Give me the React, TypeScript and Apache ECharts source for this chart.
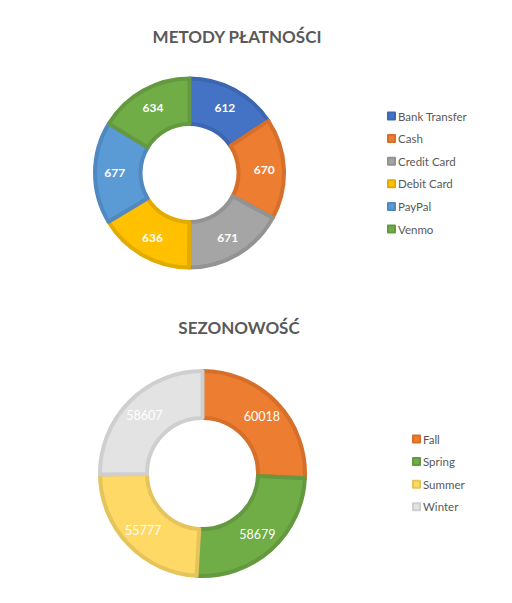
import React, { useEffect, useRef } from "react";
import * as echarts from "echarts";

const payCategories = ["Bank Transfer", "Cash", "Credit Card", "Debit Card", "PayPal", "Venmo"];
const payValues = [612, 670, 671, 636, 677, 634];
const payColors = ["#4472C4", "#ED7D31", "#A5A5A5", "#FFC000", "#5B9BD5", "#70AD47"];
const payBorders = ["#3D66B0", "#D66F2A", "#939393", "#E3AB00", "#5089C2", "#64993F"];

const seasonCategories = ["Fall", "Spring", "Summer", "Winter"];
const seasonValues = [60018, 58679, 55777, 58607];
const seasonColors = ["#ED7D31", "#70AD47", "#FFD966", "#E3E3E3"];
const seasonBorders = ["#D66F2A", "#64993F", "#E6C45C", "#CFCFCF"];

const FONT = "Lato, 'Open Sans', sans-serif";

export default function App() {
  const ref = useRef<HTMLDivElement>(null);
  useEffect(() => {
    if (!ref.current) return;
    const chart = echarts.init(ref.current, null, { renderer: "svg" });
    const mk = (names: string[], vals: number[], cols: string[], bords: string[]) =>
      names.map((n, i) => ({
        name: n,
        value: vals[i],
        itemStyle: { color: cols[i], borderColor: bords[i], borderWidth: 4 },
      }));
    const legendText = { fontFamily: FONT, fontSize: 11.5, color: "#595959", lineHeight: 12, padding: [0, 0, 0, -2] };
    chart.setOption({
      animation: false,
      title: [
        {
          text: "METODY PŁATNOŚCI",
          left: 232,
          top: 23,
          textAlign: "center",
          textStyle: { fontFamily: FONT, fontSize: 17, fontWeight: "bold", color: "#595959" },
        },
        {
          text: "SEZONOWOŚĆ",
          left: 234,
          top: 314,
          textAlign: "center",
          textStyle: { fontFamily: FONT, fontSize: 17, fontWeight: "bold", color: "#595959" },
        },
      ],
      legend: [
        {
          orient: "vertical",
          left: 382,
          top: 105,
          itemWidth: 7,
          itemHeight: 7,
          itemGap: 10.6,
          icon: "rect",
          data: payCategories,
          textStyle: legendText,
        },
        {
          orient: "vertical",
          left: 407,
          top: 428,
          itemWidth: 7,
          itemHeight: 7,
          itemGap: 10.6,
          icon: "rect",
          data: seasonCategories,
          textStyle: legendText,
        },
      ],
      series: [
        {
          type: "pie",
          center: [189.5, 173],
          radius: [49, 94.5],
          startAngle: 90,
          clockwise: true,
          data: mk(payCategories, payValues, payColors, payBorders),
          label: {
            show: true,
            position: "inside",
            formatter: "{c}",
            color: "#fff",
            fontFamily: FONT,
            fontWeight: "bold",
            fontSize: 12,
          },
          labelLine: { show: false },
          emphasis: { disabled: true },
        },
        {
          type: "pie",
          center: [202.5, 473.5],
          radius: [55.5, 102.5],
          startAngle: 90,
          clockwise: true,
          data: mk(seasonCategories, seasonValues, seasonColors, seasonBorders),
          label: {
            show: true,
            position: "inside",
            formatter: "{c}",
            color: "#fff",
            fontFamily: FONT,
            fontSize: 12.5,
          },
          labelLine: { show: false },
          emphasis: { disabled: true },
        },
      ],
    });
    return () => chart.dispose();
  }, []);
  return (
    <div
      ref={ref}
      style={{ position: "absolute", left: 0, top: 0, width: 512, height: 603, background: "#fff" }}
    />
  );
}
